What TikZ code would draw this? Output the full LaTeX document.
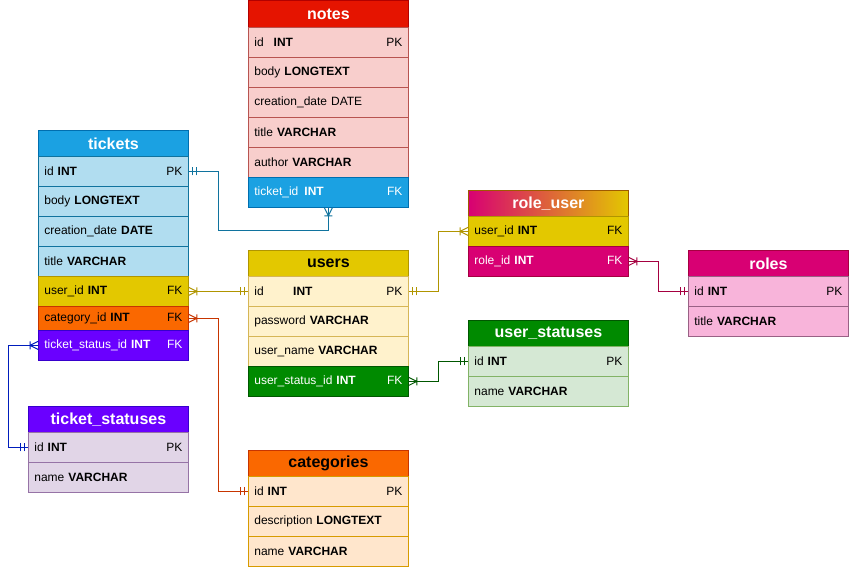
\documentclass[tikz,border=0pt]{standalone}
\usepackage{fontspec}
\setmainfont{Liberation Sans}
\usetikzlibrary{decorations.markings}

\definecolor{notesred}{HTML}{E51400}
\definecolor{notesredline}{HTML}{B20000}
\definecolor{notesfill}{HTML}{F8CECC}
\definecolor{notesline}{HTML}{B85450}
\definecolor{ticketsblue}{HTML}{1BA1E2}
\definecolor{ticketsblueline}{HTML}{006EAF}
\definecolor{ticketsfill}{HTML}{B1DDF0}
\definecolor{ticketsline}{HTML}{10739E}
\definecolor{usersyellow}{HTML}{E3C800}
\definecolor{usersyellowline}{HTML}{B09500}
\definecolor{usersfill}{HTML}{FFF2CC}
\definecolor{usersline}{HTML}{D6B656}
\definecolor{rolesmagenta}{HTML}{D80073}
\definecolor{rolesmagentaline}{HTML}{A50040}
\definecolor{rolesfill}{HTML}{F8B4DA}
\definecolor{rolesline}{HTML}{996185}
\definecolor{roleuserline}{HTML}{9E5A00}
\definecolor{statusgreen}{HTML}{008A00}
\definecolor{statusgreenline}{HTML}{005700}
\definecolor{statusfill}{HTML}{D5E8D4}
\definecolor{statusline}{HTML}{82B366}
\definecolor{tstatusviolet}{HTML}{6A00FF}
\definecolor{tstatusvioletline}{HTML}{3700CC}
\definecolor{tstatusfill}{HTML}{E1D5E7}
\definecolor{tstatusline}{HTML}{9673A6}
\definecolor{catorange}{HTML}{FA6800}
\definecolor{catorangeline}{HTML}{C73500}
\definecolor{catfill}{HTML}{FFE6CC}
\definecolor{catline}{HTML}{D79B00}
\definecolor{tstatuslink}{HTML}{001DBC}

\newcommand{\keycol}[1]{\hspace{0pt plus 1filll}#1}

\begin{document}
\begin{tikzpicture}[x=1pt,y=-1pt,
  tablehead/.style={rectangle,draw,anchor=north west,minimum width=160pt,minimum height=26pt,
    inner sep=0pt,line width=0.8pt,font=\bfseries\fontsize{16}{19}\selectfont},
  tablerow/.style={rectangle,draw,anchor=north west,text width=148pt,minimum height=30pt,
    inner xsep=6pt,inner ysep=0pt,align=left,line width=0.8pt,font=\fontsize{12}{14}\selectfont},
  notesrow/.style={tablerow,fill=notesfill,draw=notesline},
  ticketsrow/.style={tablerow,fill=ticketsfill,draw=ticketsline,text width=138pt},
  usersrow/.style={tablerow,fill=usersfill,draw=usersline},
  rolesrow/.style={tablerow,fill=rolesfill,draw=rolesline},
  statusrow/.style={tablerow,fill=statusfill,draw=statusline},
  tstatusrow/.style={tablerow,fill=tstatusfill,draw=tstatusline},
  catrow/.style={tablerow,fill=catfill,draw=catline},
  link/.style={line width=1pt},
  onestart/.style={postaction={decorate,decoration={markings,
    mark=at position 4pt with {\draw (0pt,-4pt) -- (0pt,4pt);},
    mark=at position 8pt with {\draw (0pt,-4pt) -- (0pt,4pt);}}}},
  oneend/.style={postaction={decorate,decoration={markings,
    mark=at position -4pt with {\draw (0pt,-4pt) -- (0pt,4pt);},
    mark=at position -8pt with {\draw (0pt,-4pt) -- (0pt,4pt);}}}},
  manystart/.style={postaction={decorate,decoration={markings,
    mark=at position 8pt with {\draw (-8pt,-4pt) -- (0pt,0pt) -- (-8pt,4pt) (0pt,-4pt) -- (0pt,4pt);}}}},
  manyend/.style={postaction={decorate,decoration={markings,
    mark=at position -8pt with {\draw (8pt,-4pt) -- (0pt,0pt) -- (8pt,4pt) (0pt,-4pt) -- (0pt,4pt);}}}}]
\useasboundingbox (0,0) rectangle (850,570);

% notes
\node[tablehead,fill=notesred,draw=notesredline,text=white,minimum height=27pt] (notes) at (248,0) {notes};
\node[notesrow] (notesid) at (248,27) {id\hspace{10pt}\textbf{INT}\keycol{PK}};
\node[notesrow] (notesbody) at (248,57) {body \textbf{LONGTEXT}};
\node[notesrow] (notesdate) at (248,87) {creation\_date DATE};
\node[notesrow] (notestitle) at (248,117) {title \textbf{VARCHAR}};
\node[notesrow] (notesauthor) at (248,147) {author \textbf{VARCHAR}};
\node[tablerow,fill=ticketsblue,draw=ticketsblueline,text=white] (notesticket) at (248,177) {ticket\_id\hspace{6pt}\textbf{INT}\keycol{FK}};

% tickets
\node[tablehead,fill=ticketsblue,draw=ticketsblueline,text=white,minimum width=150pt] (tickets) at (38,130) {tickets};
\node[ticketsrow] (ticketsid) at (38,156) {id \textbf{INT}\keycol{PK}};
\node[ticketsrow] (ticketsbody) at (38,186) {body \textbf{LONGTEXT}};
\node[ticketsrow] (ticketsdate) at (38,216) {creation\_date \textbf{DATE}};
\node[ticketsrow] (ticketstitle) at (38,246) {title \textbf{VARCHAR}};
\node[ticketsrow,fill=usersyellow,draw=usersyellowline] (ticketsuser) at (38,276) {user\_id \textbf{INT}\keycol{FK}};
\node[ticketsrow,fill=catorange,draw=catorangeline,minimum height=24pt] (ticketscat) at (38,306) {category\_id \textbf{INT}\keycol{FK}};
\node[ticketsrow,fill=tstatusviolet,draw=tstatusvioletline,text=white] (ticketsstatus) at (38,330) {ticket\_status\_id \textbf{INT}\keycol{FK}};

% users
\node[tablehead,fill=usersyellow,draw=usersyellowline] (users) at (248,250) {users};
\node[usersrow] (usersid) at (248,276) {id\hspace{29.5pt}\textbf{INT}\keycol{PK}};
\node[usersrow] (userspass) at (248,306) {password \textbf{VARCHAR}};
\node[usersrow] (usersname) at (248,336) {user\_name \textbf{VARCHAR}};
\node[tablerow,fill=statusgreen,draw=statusgreenline,text=white] (usersstatus) at (248,366) {user\_status\_id \textbf{INT}\keycol{FK}};

% role_user
\node[tablehead,left color=rolesmagenta,right color=usersyellow,draw=roleuserline,text=white] (roleuser) at (468,190) {role\_user};
\node[tablerow,fill=usersyellow,draw=usersyellowline] (roleuseruser) at (468,216) {user\_id \textbf{INT}\keycol{FK}};
\node[tablerow,fill=rolesmagenta,draw=rolesmagentaline,text=white] (roleuserrole) at (468,246) {role\_id \textbf{INT}\keycol{FK}};

% roles
\node[tablehead,fill=rolesmagenta,draw=rolesmagentaline,text=white] (roles) at (688,250) {roles};
\node[rolesrow] (rolesid) at (688,276) {id \textbf{INT}\keycol{PK}};
\node[rolesrow] (rolestitle) at (688,306) {title \textbf{VARCHAR}};

% user_statuses
\node[tablehead,fill=statusgreen,draw=statusgreenline,text=white] (status) at (468,320) {user\_statuses};
\node[statusrow] (statusid) at (468,346) {id \textbf{INT}\keycol{PK}};
\node[statusrow] (statusname) at (468,376) {name \textbf{VARCHAR}};

% ticket_statuses
\node[tablehead,fill=tstatusviolet,draw=tstatusvioletline,text=white] (tstatus) at (28,406) {ticket\_statuses};
\node[tstatusrow] (tstatusid) at (28,432) {id \textbf{INT}\keycol{PK}};
\node[tstatusrow] (tstatusname) at (28,462) {name \textbf{VARCHAR}};

% categories
\node[tablehead,fill=catorange,draw=catorangeline] (cat) at (248,450) {categories};
\node[catrow] (catid) at (248,476) {id \textbf{INT}\keycol{PK}};
\node[catrow] (catdesc) at (248,506) {description \textbf{LONGTEXT}};
\node[catrow] (catname) at (248,536) {name \textbf{VARCHAR}};

% relations
\draw[link,color=ticketsline,onestart,manyend] (ticketsid.east) -- ++(30,0) |- ([yshift=-23pt]notesticket.south) -- (notesticket.south);
\draw[link,color=usersyellowline,manystart,oneend] (ticketsuser.east) -- (usersid.west);
\draw[link,color=catorangeline,manystart,oneend] (ticketscat.east) -- ++(30,0) |- (catid.west);
\draw[link,color=tstatuslink,manystart,oneend] (ticketsstatus.west) -- ++(-30,0) |- (tstatusid.west);
\draw[link,color=usersyellowline,onestart,manyend] (usersid.east) -- ++(30,0) |- (roleuseruser.west);
\draw[link,color=rolesmagentaline,manystart,oneend] (roleuserrole.east) -- ++(30,0) |- (rolesid.west);
\draw[link,color=statusgreenline,manystart,oneend] (usersstatus.east) -- ++(30,0) |- (statusid.west);
\end{tikzpicture}
\end{document}
